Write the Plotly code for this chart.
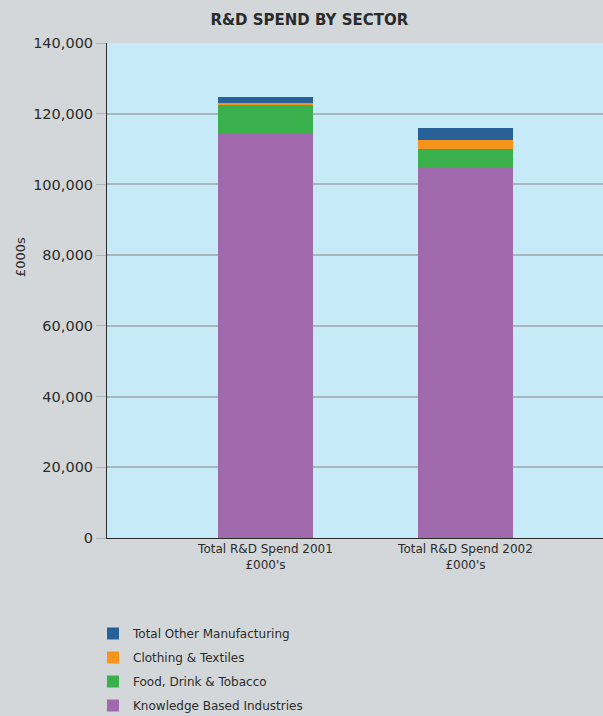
import plotly.graph_objects as go

categories = ["Total R&D Spend 2001<br>£000's", "Total R&D Spend 2002<br>£000's"]
series_names = ["Knowledge Based Industries", "Food, Drink & Tobacco",
                "Clothing & Textiles", "Total Other Manufacturing"]
knowledge = [114300, 104600]
food = [8300, 5500]
clothing = [500, 2600]
other = [1700, 3300]
colors = ["#A06AAC", "#3AB14C", "#F7941E", "#286098"]
y_ticks = [0, 20000, 40000, 60000, 80000, 100000, 120000, 140000]

FONT = "DejaVu Sans"
fig = go.Figure()
for i, (name, vals, col) in enumerate(zip(series_names, [knowledge, food, clothing, other], colors)):
    fig.add_trace(go.Bar(
        x=categories, y=vals, name=name, marker=dict(color=col, line=dict(width=0)),
        width=0.475, legendgroup=name, legendrank=10 - i,
    ))

fig.add_annotation(text="£000s", textangle=-90, xref="paper", yref="paper",
                   x=(20 - 107) / 496, y=(538 - 257) / 495, showarrow=False,
                   xanchor="center", yanchor="middle", font=dict(size=13, family=FONT))

fig.update_layout(
    barmode="stack",
    width=603, height=716,
    margin=dict(l=107, r=0, t=43, b=178, autoexpand=False),
    paper_bgcolor="#D3D7D9",
    plot_bgcolor="#C7EAF9",
    font=dict(family=FONT, color="#2B2B2B"),
    title=dict(text="<b>R&D SPEND BY SECTOR</b>", x=0.513, xanchor="center", y=0.972,
               yanchor="middle", font=dict(size=15, family=FONT, color="#2B2B2B")),
    xaxis=dict(range=[-0.7925, 1.6875], showgrid=False, showline=True,
               linecolor="#2B2B2B", linewidth=1, ticks="", tickfont=dict(size=12)),
    yaxis=dict(range=[0, 140000], tickvals=y_ticks, tickformat=",", showgrid=True,
               gridcolor="#A9B5BC", gridwidth=1.5, showline=True, linecolor="#2B2B2B",
               linewidth=1, ticks="outside", ticklen=10, tickcolor="#A9B5BC",
               tickfont=dict(size=14.5), zeroline=False),
    legend=dict(xref="container", yref="container", x=93 / 603, xanchor="left",
                y=1 - 619 / 716, yanchor="top", traceorder="grouped",
                tracegroupgap=5, font=dict(size=12), bgcolor="rgba(0,0,0,0)"),
    showlegend=True,
)
fig.write_html("out.html")
